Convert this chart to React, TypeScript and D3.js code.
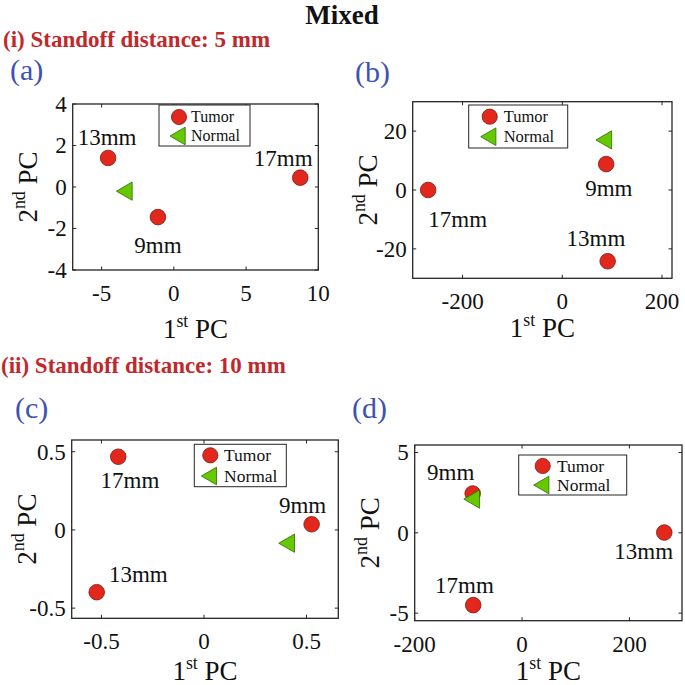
import React from "react";
import * as d3 from "d3";

// ---------- DATA ----------
const tumorLabels = ["9mm", "13mm", "17mm"];
const seriesNames = ["Tumor", "Normal"];

const aTumorPC1 = [-1.1, -4.55, 8.75];
const aTumorPC2 = [-1.45, 1.4, 0.45];
const aNormalPC1 = [-3.4];
const aNormalPC2 = [-0.2];

const bTumorPC1 = [88, 91, -269];
const bTumorPC2 = [8.8, -24.2, 0];
const bNormalPC1 = [84];
const bNormalPC2 = [17];

const cTumorPC1 = [0.525, -0.523, -0.418];
const cTumorPC2 = [0.036, -0.398, 0.468];
const cNormalPC1 = [0.405];
const cNormalPC2 = [-0.085];

const dTumorPC1 = [-92, 265, -91];
const dTumorPC2 = [2.45, 0.02, -4.5];
const dNormalPC1 = [-93];
const dNormalPC2 = [2.1];

const aXTicks = [-5, 0, 5, 10];
const aYTicks = [-4, -2, 0, 2, 4];
const bXTicks = [-200, 0, 200];
const bYTicks = [-20, 0, 20];
const cXTicks = [-0.5, 0, 0.5];
const cYTicks = [-0.5, 0, 0.5];
const dXTicks = [-200, 0, 200];
const dYTicks = [-5, 0, 5];

const aXLim = [-7, 10];
const aYLim = [-4, 4];
const bXLim = [-300, 220];
const bYLim = [-30, 30];
const cXLim = [-0.645, 0.655];
const cYLim = [-0.565, 0.575];
const dXLim = [-200, 298];
const dYLim = [-5.47, 5.47];

const figTitle = "Mixed";
const section1 = "(i) Standoff distance: 5 mm";
const section2 = "(ii) Standoff distance: 10 mm";

// ---------- LAYOUT / STYLE ----------
const FONT = "'Liberation Serif', 'Times New Roman', serif";
const RED = "#e2271c";
const RED_EDGE = "#7d1a12";
const GREEN = "#66c800";
const GREEN_EDGE = "#2f6a00";
const AX = "#262626";

const panels = [
  {
    tag: "(a)", tagX: 10, tagY: 80,
    box: { l: 72.7, r: 318.3, t: 104, b: 270 },
    xLim: aXLim, yLim: aYLim, xTicks: aXTicks, yTicks: aYTicks,
    tx: aTumorPC1, ty: aTumorPC2, nx: aNormalPC1, ny: aNormalPC2,
    lab: [[0, 35.7], [-1, -13.4], [-17, -11.7]],
    legend: { x: 159, y: 105, w: 91, h: 41, fs: 16, mx: 20, r1: 12, r2: 31, tx: 32 },
    xlabelY: 338,
  },
  {
    tag: "(b)", tagX: 355, tagY: 82,
    box: { l: 412.7, r: 672, t: 101.7, b: 278.3 },
    xLim: bXLim, yLim: bYLim, xTicks: bXTicks, yTicks: bYTicks,
    tx: bTumorPC1, ty: bTumorPC2, nx: bNormalPC1, ny: bNormalPC2,
    lab: [[2.7, 32.4], [-11.7, -15.3], [29.5, 36.7]],
    legend: { x: 468.7, y: 105, w: 99, h: 43, fs: 16.5, mx: 21, r1: 11.7, r2: 31.7, tx: 35 },
    xlabelY: 337,
  },
  {
    tag: "(c)", tagX: 15, tagY: 418,
    box: { l: 71.7, r: 338.3, t: 440, b: 618.3 },
    xLim: cXLim, yLim: cYLim, xTicks: cXTicks, yTicks: cYTicks,
    tx: cTumorPC1, ty: cTumorPC2, nx: cNormalPC1, ny: cNormalPC2,
    lab: [[-9, -11], [41.6, -10.6], [11.7, 31.6]],
    legend: { x: 194.3, y: 444.3, w: 92, h: 42.4, fs: 17.5, mx: 16, r1: 11, r2: 31.7, tx: 29.7 },
    xlabelY: 680,
  },
  {
    tag: "(d)", tagX: 352, tagY: 418,
    box: { l: 414.7, r: 682, t: 445, b: 620.7 },
    xLim: dXLim, yLim: dYLim, xTicks: dXTicks, yTicks: dYTicks,
    tx: dTumorPC1, ty: dTumorPC2, nx: dNormalPC1, ny: dNormalPC2,
    lab: [[-22, -13.3], [-20.6, 26.7], [-8.7, -11.7]],
    legend: { x: 518.7, y: 455, w: 108, h: 40, fs: 17.5, mx: 24, r1: 11, r2: 30, tx: 38.3 },
    xlabelY: 680,
  },
];

const TICK_FS = 23;
const LABEL_FS = 23;
const AXLAB_FS = 27;
const CIRCLE_R = 7.8;
const triPath = (s: number) => `M${-s},0 L${s * 0.9},${-s * 1.1} L${s * 0.9},${s * 1.1} Z`;

function Panel({ p }: { p: (typeof panels)[number] }) {
  const { box } = p;
  const x = d3.scaleLinear().domain(p.xLim).range([box.l, box.r]);
  const y = d3.scaleLinear().domain(p.yLim).range([box.b, box.t]);
  const tl = 3.5;
  const cx = (box.l + box.r) / 2;
  const cy = (box.t + box.b) / 2;
  const lg = p.legend;
  return (
    <g>
      <text x={p.tagX} y={p.tagY} fontFamily={FONT} fontSize={30} fill="#3d52b2">
        {p.tag}
      </text>
      <rect x={box.l} y={box.t} width={box.r - box.l} height={box.b - box.t} fill="#fff" stroke="none" />
      {p.xTicks.map((t) => (
        <g key={"xt" + t}>
          <line x1={x(t)} x2={x(t)} y1={box.b} y2={box.b - tl} stroke={AX} strokeWidth={1} />
          <line x1={x(t)} x2={x(t)} y1={box.t} y2={box.t + tl} stroke={AX} strokeWidth={1} />
          <text x={x(t)} y={box.b + 31} textAnchor="middle" fontFamily={FONT} fontSize={TICK_FS} fill="#111">
            {String(t)}
          </text>
        </g>
      ))}
      {p.yTicks.map((t) => (
        <g key={"yt" + t}>
          <line x1={box.l} x2={box.l + tl} y1={y(t)} y2={y(t)} stroke={AX} strokeWidth={1} />
          <line x1={box.r} x2={box.r - tl} y1={y(t)} y2={y(t)} stroke={AX} strokeWidth={1} />
          <text x={box.l - 6} y={y(t)} dy="0.34em" textAnchor="end" fontFamily={FONT} fontSize={TICK_FS} fill="#111">
            {String(t)}
          </text>
        </g>
      ))}
      <rect x={box.l} y={box.t} width={box.r - box.l} height={box.b - box.t} fill="none" stroke={AX} strokeWidth={1.3} />
      {/* axis labels */}
      <text x={cx} y={p.xlabelY} textAnchor="middle" fontFamily={FONT} fontSize={AXLAB_FS} fill="#111">
        1<tspan fontSize={AXLAB_FS * 0.66} dy={-AXLAB_FS * 0.42}>st</tspan>
        <tspan dy={AXLAB_FS * 0.42}> PC</tspan>
      </text>
      <text
        transform={`translate(${box.l - 36},${cy}) rotate(-90)`}
        textAnchor="middle"
        fontFamily={FONT}
        fontSize={AXLAB_FS}
        fill="#111"
      >
        2<tspan fontSize={AXLAB_FS * 0.66} dy={-AXLAB_FS * 0.42}>nd</tspan>
        <tspan dy={AXLAB_FS * 0.42}> PC</tspan>
      </text>
      {/* legend */}
      <rect x={lg.x} y={lg.y} width={lg.w} height={lg.h} fill="#fff" stroke={AX} strokeWidth={1} />
      <circle cx={lg.x + lg.mx} cy={lg.y + lg.r1} r={7.6} fill={RED} stroke={RED_EDGE} strokeWidth={0.8} />
      <path d={triPath(8)} transform={`translate(${lg.x + lg.mx - 1},${lg.y + lg.r2})`} fill={GREEN} stroke={GREEN_EDGE} strokeWidth={0.8} />
      <text x={lg.x + lg.tx} y={lg.y + lg.r1} dy="0.33em" fontFamily={FONT} fontSize={lg.fs} fill="#111">
        {seriesNames[0]}
      </text>
      <text x={lg.x + lg.tx} y={lg.y + lg.r2} dy="0.33em" fontFamily={FONT} fontSize={lg.fs} fill="#111">
        {seriesNames[1]}
      </text>
      {/* points */}
      {p.tx.map((v, i) => (
        <circle key={"t" + i} cx={x(v)} cy={y(p.ty[i])} r={CIRCLE_R} fill={RED} stroke={RED_EDGE} strokeWidth={0.8} />
      ))}
      {p.nx.map((v, i) => (
        <path key={"n" + i} d={triPath(8.3)} transform={`translate(${x(v)},${y(p.ny[i])})`} fill={GREEN} stroke={GREEN_EDGE} strokeWidth={0.8} />
      ))}
      {p.tx.map((v, i) => (
        <text
          key={"l" + i}
          x={x(v) + p.lab[i][0]}
          y={y(p.ty[i]) + p.lab[i][1]}
          textAnchor="middle"
          fontFamily={FONT}
          fontSize={LABEL_FS}
          fill="#111"
        >
          {tumorLabels[i]}
        </text>
      ))}
    </g>
  );
}

export default function App() {
  return (
    <svg
      width={685}
      height={685}
      viewBox="0 0 685 685"
      style={{ position: "absolute", left: 0, top: 0, background: "#fff" }}
    >
      <rect width={685} height={685} fill="#fff" />
      <text x={342} y={24} textAnchor="middle" fontFamily={FONT} fontWeight="bold" fontSize={27} fill="#111">
        {figTitle}
      </text>
      <text x={3} y={47} fontFamily={FONT} fontWeight="bold" fontSize={23} fill="#c1282b">
        {section1}
      </text>
      <text x={1} y={373} fontFamily={FONT} fontWeight="bold" fontSize={23} fill="#c1282b">
        {section2}
      </text>
      {panels.map((p) => (
        <Panel key={p.tag} p={p} />
      ))}
    </svg>
  );
}
